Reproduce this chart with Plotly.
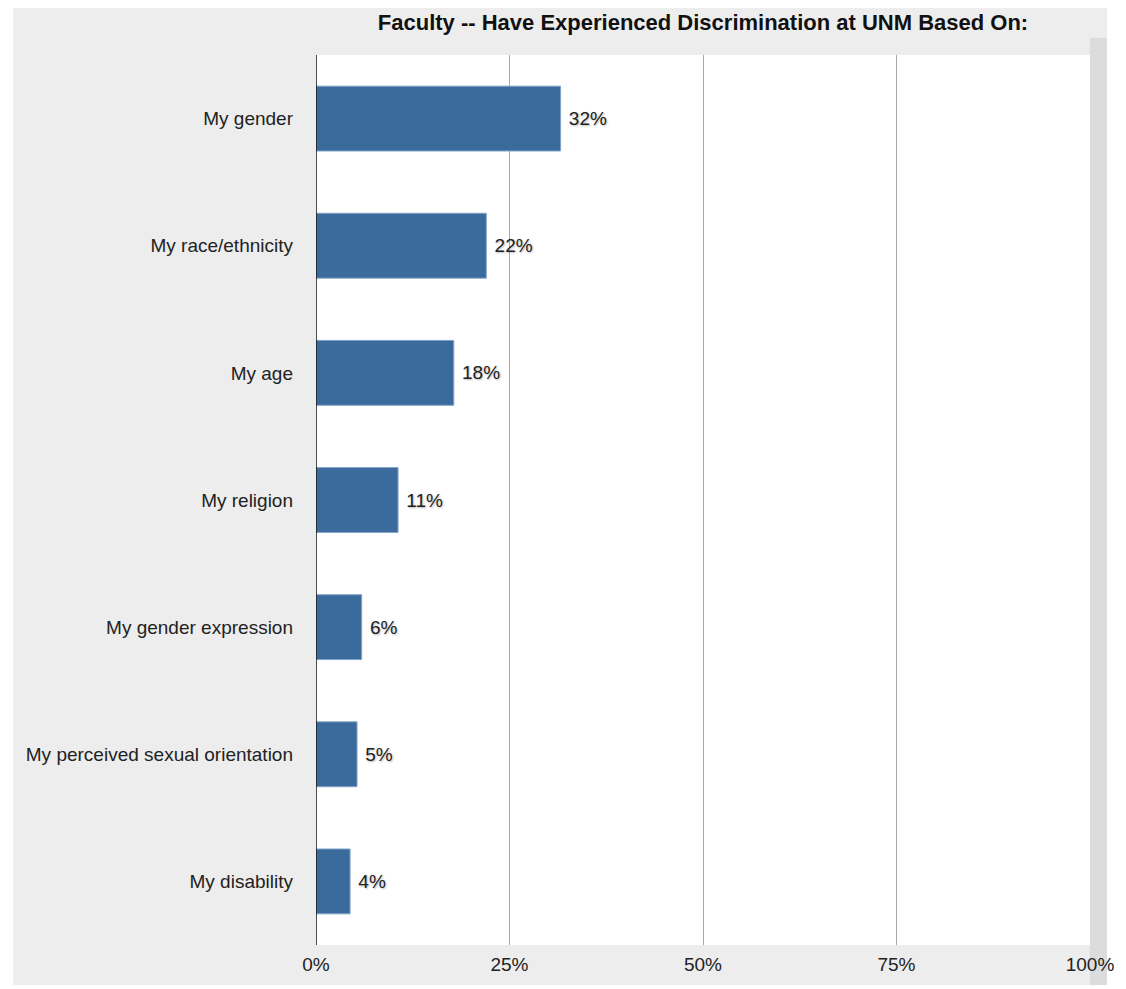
import plotly.graph_objects as go

categories = [
    "My gender",
    "My race/ethnicity",
    "My age",
    "My religion",
    "My gender expression",
    "My perceived sexual orientation",
    "My disability",
]
values = [31.6, 22.0, 17.8, 10.6, 5.9, 5.3, 4.4]
value_labels = ["32%", "22%", "18%", "11%", "6%", "5%", "4%"]
tick_vals = [0, 25, 50, 75, 100]
tick_text = ["0%", "25%", "50%", "75%", "100%"]
title_text = "Faculty -- Have Experienced Discrimination at UNM Based On:"

FONT = "Liberation Sans, Arial, Helvetica, sans-serif"

# page has an 8px body margin; figure sized so plot lands where the reference has it
W, H = 1118, 981
L, R, T, B = 308, 33, 47, 44
pw = W - L - R
ph = H - T - B


def px(fx):
    return (fx - L) / pw


def py(fy):
    return (H - B - fy) / ph


fig = go.Figure()
fig.add_trace(go.Bar(
    y=categories,
    x=values,
    orientation="h",
    width=0.51,
    marker=dict(color="#3b6a9c", line=dict(color="#7fa3c9", width=1)),
    text=value_labels,
    texttemplate="\u00a0%{text}",
    textposition="outside",
    cliponaxis=False,
    textfont=dict(family=FONT, size=19, color="#222222", shadow="1px 1px 2px #b8b8b8"),
    hoverinfo="skip",
))

shapes = [
    # white outer edges
    dict(type="rect", xref="paper", yref="paper", layer="below",
         x0=px(-10), x1=px(4), y0=py(-10), y1=py(H + 10),
         fillcolor="#ffffff", line=dict(width=0)),
    dict(type="rect", xref="paper", yref="paper", layer="below",
         x0=px(1102), x1=px(W + 10), y0=py(-10), y1=py(H + 10),
         fillcolor="#ffffff", line=dict(width=0)),
    dict(type="rect", xref="paper", yref="paper", layer="below",
         x0=px(-10), x1=px(W + 10), y0=py(H + 10), y1=py(977),
         fillcolor="#ffffff", line=dict(width=0)),
    # darker right strip
    dict(type="rect", xref="paper", yref="paper", layer="below",
         x0=1.0, x1=px(1102), y0=py(977), y1=py(30),
         fillcolor="#dcdcdc", line=dict(width=0)),
]

fig.update_layout(
    width=W,
    height=H,
    margin=dict(l=L, r=R, t=T, b=B, pad=0),
    paper_bgcolor="#ededed",
    plot_bgcolor="#ffffff",
    showlegend=False,
    font=dict(family=FONT, color="#222222"),
    title=dict(
        text="<b>" + title_text + "</b>",
        x=0.5, xref="paper", xanchor="center",
        y=1 - 14 / H, yref="container", yanchor="middle",
        font=dict(family=FONT, size=22, color="#111111"),
    ),
    shapes=shapes,
)

fig.update_xaxes(
    range=[0, 100],
    tickvals=tick_vals,
    ticktext=tick_text,
    showgrid=True,
    gridcolor="#a8a8a8",
    gridwidth=1,
    zeroline=False,
    showline=False,
    ticks="",
    tickfont=dict(family=FONT, size=19, color="#222222"),
    ticklabelstandoff=6,
    fixedrange=True,
)
fig.update_yaxes(
    categoryorder="array",
    categoryarray=categories[::-1],
    showgrid=False,
    zeroline=False,
    showline=False,
    ticks="",
    tickfont=dict(family=FONT, size=19, color="#222222"),
    ticklabelstandoff=22,
    fixedrange=True,
)
fig.add_vline(x=0, line=dict(color="#111111", width=1.5), layer="above")

fig.write_html("out.html")
